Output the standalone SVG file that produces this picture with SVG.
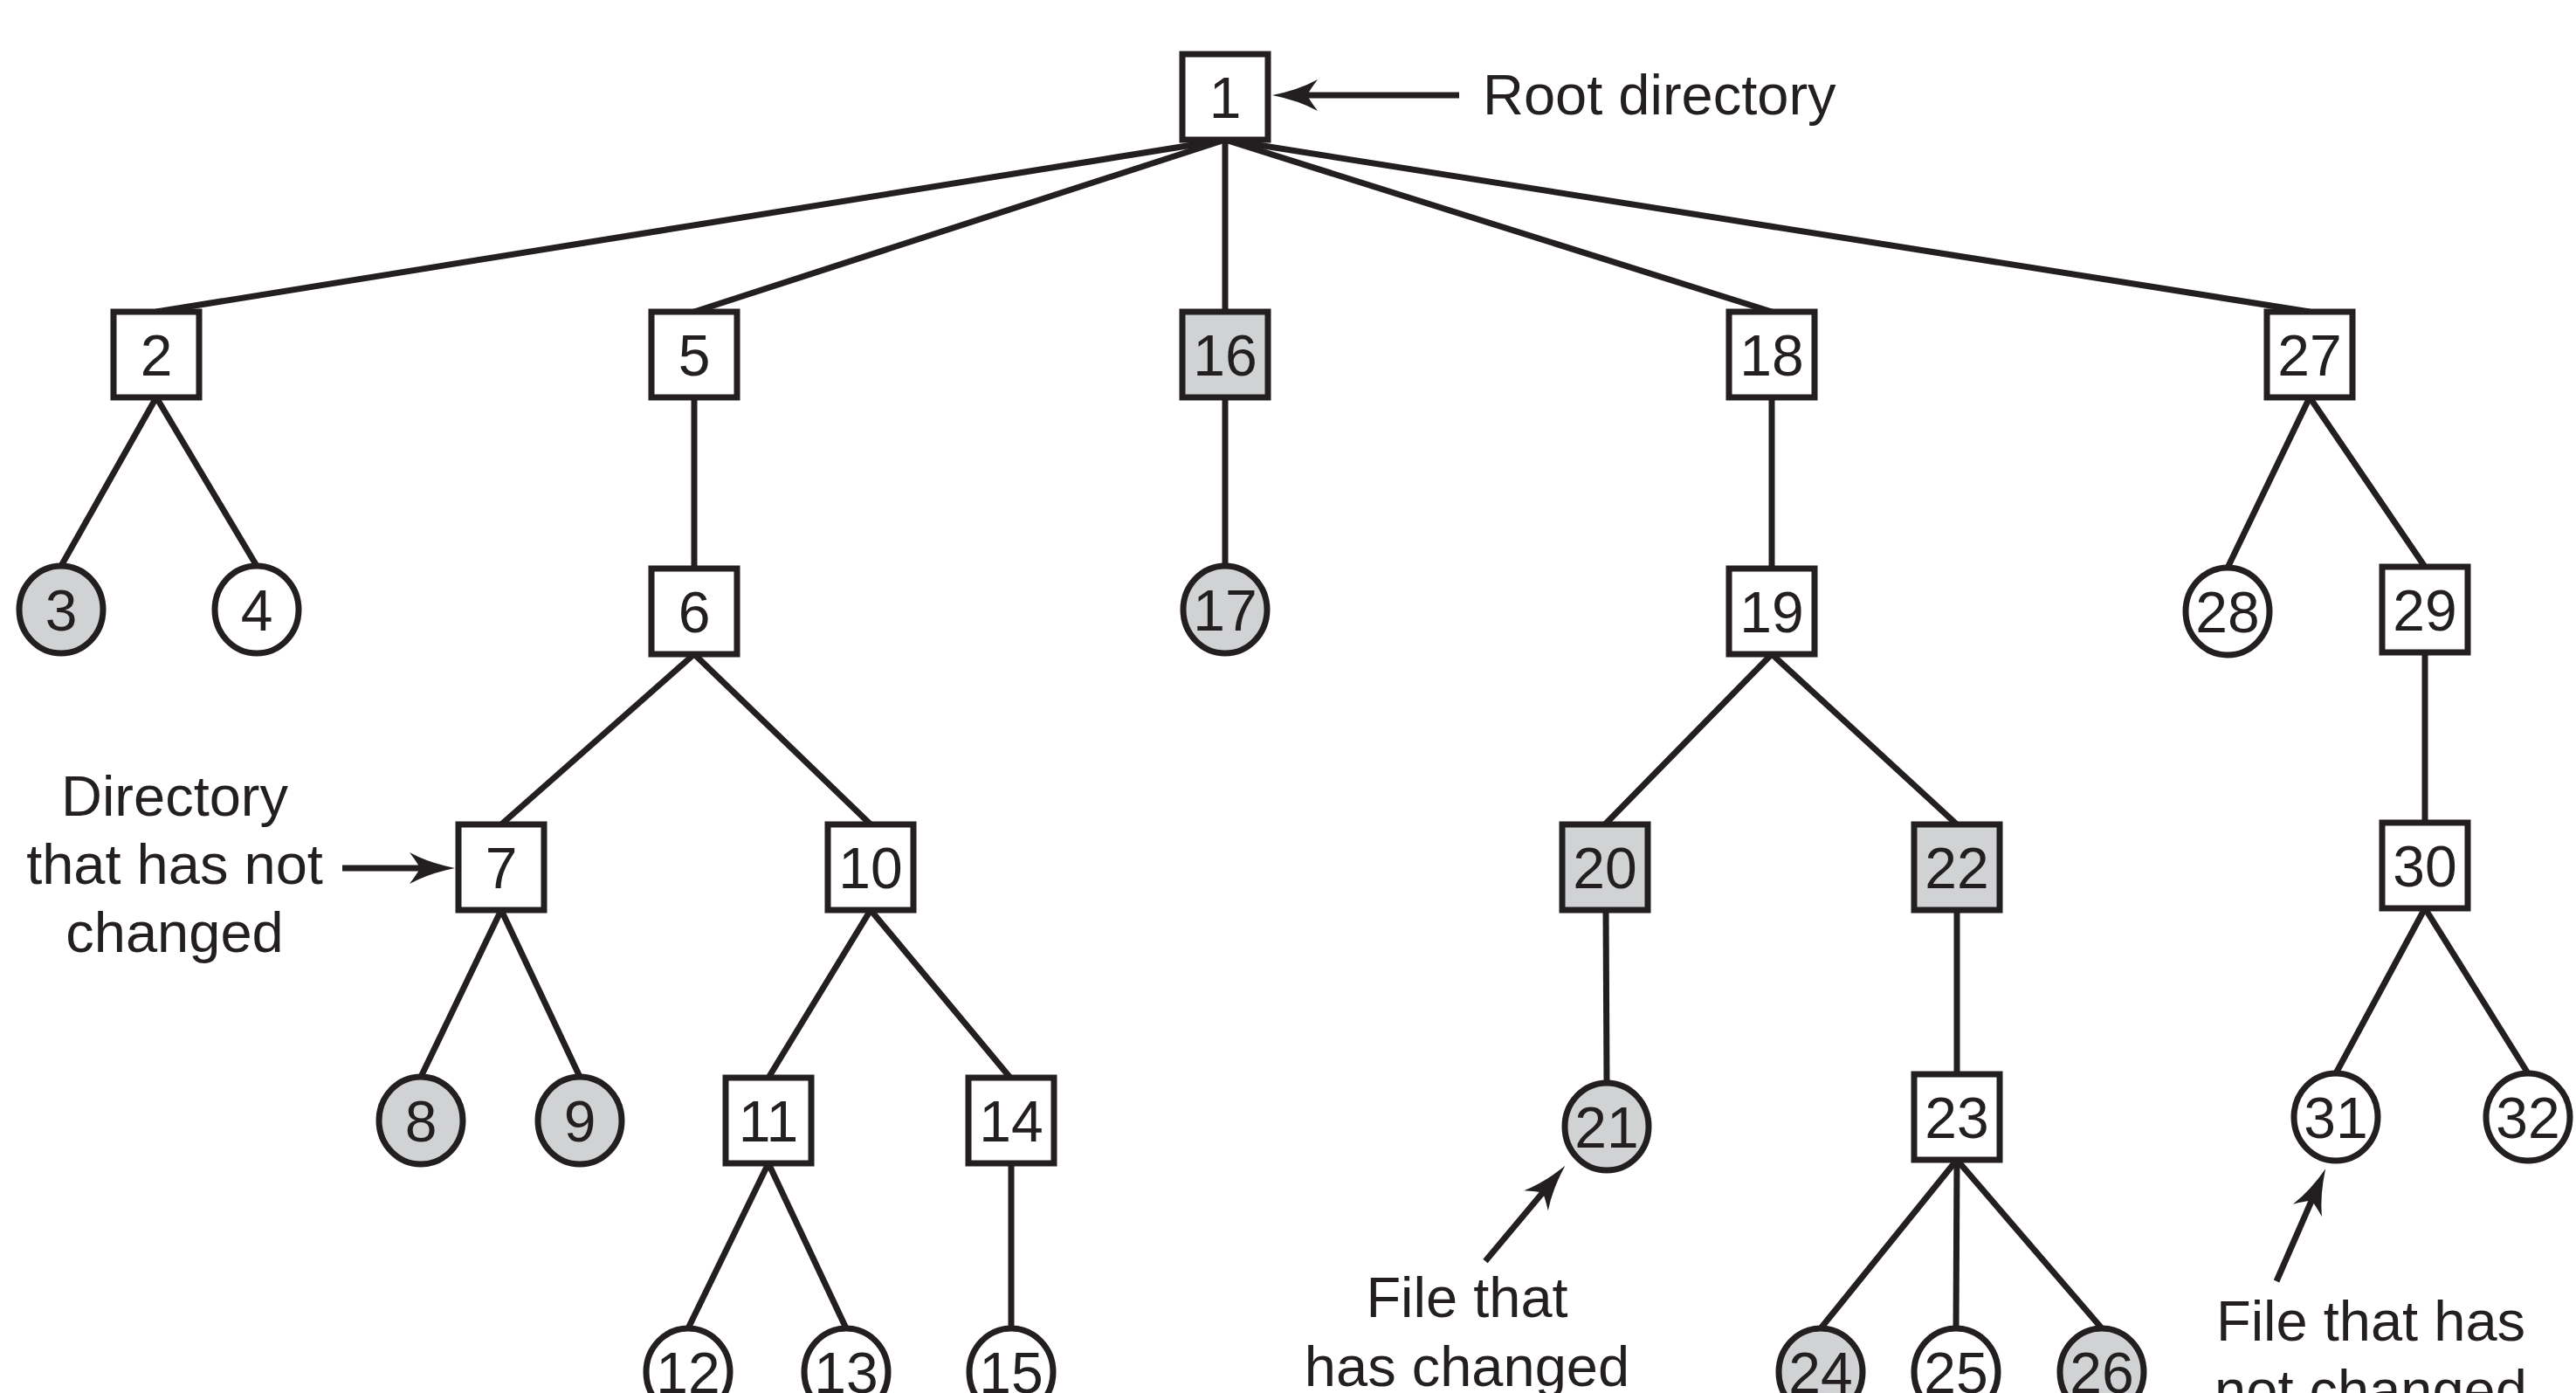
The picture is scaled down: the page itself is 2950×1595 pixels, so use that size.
<svg xmlns="http://www.w3.org/2000/svg" width="2950" height="1595" viewBox="0 0 2950 1595">
<style>
.n rect,.n ellipse{stroke:#231f20;stroke-width:7;fill:#ffffff}
.g rect,.g ellipse{fill:#d1d2d4}
text{font-family:"Liberation Sans",Arial,sans-serif;fill:#231f20}
.num{font-size:66px;text-anchor:middle}
.lbl{font-size:65px}
.mid{text-anchor:middle}
#connectors line{stroke:#231f20;stroke-width:7;fill:none}
#connectors .arr{marker-end:url(#ah)}
</style>
<defs>
<marker id="ah" markerUnits="userSpaceOnUse" viewBox="-20 -20 60 40" markerWidth="60" markerHeight="40" refX="0" refY="0" orient="auto">
<path d="M38,0 Q8,-6 -14,-18 Q-5,-6 -2,0 Q-5,6 -14,18 Q8,6 38,0 Z" fill="#231f20"/>
</marker>
</defs>
<rect width="2950" height="1595" fill="#ffffff"/>
<g id="connectors">
<line x1="1403" y1="160" x2="179" y2="357"/>
<line x1="1403" y1="160" x2="795" y2="357"/>
<line x1="1403" y1="160" x2="1403" y2="357"/>
<line x1="1403" y1="160" x2="2029" y2="357"/>
<line x1="1403" y1="160" x2="2645" y2="357"/>
<line x1="179" y1="455" x2="70" y2="648"/>
<line x1="179" y1="455" x2="294" y2="648"/>
<line x1="795" y1="455" x2="795" y2="651"/>
<line x1="1403" y1="455" x2="1403" y2="648"/>
<line x1="2029" y1="455" x2="2029" y2="651"/>
<line x1="2645" y1="455" x2="2551" y2="650"/>
<line x1="2645" y1="455" x2="2777" y2="649"/>
<line x1="795" y1="749" x2="574" y2="944"/>
<line x1="795" y1="749" x2="997" y2="944"/>
<line x1="2029" y1="749" x2="1838" y2="944"/>
<line x1="2029" y1="749" x2="2241" y2="944"/>
<line x1="2777" y1="747" x2="2777" y2="942"/>
<line x1="574" y1="1042" x2="482" y2="1233"/>
<line x1="574" y1="1042" x2="664" y2="1233"/>
<line x1="997" y1="1042" x2="880" y2="1234"/>
<line x1="997" y1="1042" x2="1157" y2="1234"/>
<line x1="1839" y1="1042" x2="1840" y2="1240"/>
<line x1="2241" y1="1042" x2="2241" y2="1230"/>
<line x1="2777" y1="1040" x2="2675" y2="1229"/>
<line x1="2777" y1="1040" x2="2895" y2="1229"/>
<line x1="880" y1="1332" x2="788" y2="1521"/>
<line x1="880" y1="1332" x2="969" y2="1521"/>
<line x1="1158" y1="1332" x2="1158" y2="1521"/>
<line x1="2241" y1="1328" x2="2085" y2="1521"/>
<line x1="2241" y1="1328" x2="2240" y2="1521"/>
<line x1="2241" y1="1328" x2="2407" y2="1521"/>
<line class="arr" x1="1671" y1="109" x2="1495" y2="109"/>
<line class="arr" x1="392" y1="994" x2="483" y2="994"/>
<line class="arr" x1="1701" y1="1444" x2="1768" y2="1364"/>
<line class="arr" x1="2607" y1="1467" x2="2648" y2="1373"/>
</g>
<g id="n1" class="n"><rect x="1354" y="62" width="98" height="98"/><text class="num" x="1403" y="135">1</text></g>
<g id="n2" class="n"><rect x="130" y="357" width="98" height="98"/><text class="num" x="179" y="430">2</text></g>
<g id="n5" class="n"><rect x="746" y="357" width="98" height="98"/><text class="num" x="795" y="430">5</text></g>
<g id="n16" class="n g"><rect x="1354" y="357" width="98" height="98"/><text class="num" x="1403" y="430">16</text></g>
<g id="n18" class="n"><rect x="1980" y="357" width="98" height="98"/><text class="num" x="2029" y="430">18</text></g>
<g id="n27" class="n"><rect x="2596" y="357" width="98" height="98"/><text class="num" x="2645" y="430">27</text></g>
<g id="n3" class="n g"><ellipse cx="70" cy="698" rx="48" ry="50"/><text class="num" x="70" y="722">3</text></g>
<g id="n4" class="n"><ellipse cx="294" cy="698" rx="48" ry="50"/><text class="num" x="294" y="722">4</text></g>
<g id="n6" class="n"><rect x="746" y="651" width="98" height="98"/><text class="num" x="795" y="724">6</text></g>
<g id="n17" class="n g"><ellipse cx="1403" cy="698" rx="48" ry="50"/><text class="num" x="1403" y="722">17</text></g>
<g id="n19" class="n"><rect x="1980" y="651" width="98" height="98"/><text class="num" x="2029" y="724">19</text></g>
<g id="n28" class="n"><ellipse cx="2551" cy="700" rx="48" ry="50"/><text class="num" x="2551" y="724">28</text></g>
<g id="n29" class="n"><rect x="2728" y="649" width="98" height="98"/><text class="num" x="2777" y="722">29</text></g>
<g id="n7" class="n"><rect x="525" y="944" width="98" height="98"/><text class="num" x="574" y="1017">7</text></g>
<g id="n10" class="n"><rect x="948" y="944" width="98" height="98"/><text class="num" x="997" y="1017">10</text></g>
<g id="n20" class="n g"><rect x="1789" y="944" width="98" height="98"/><text class="num" x="1838" y="1017">20</text></g>
<g id="n22" class="n g"><rect x="2192" y="944" width="98" height="98"/><text class="num" x="2241" y="1017">22</text></g>
<g id="n30" class="n"><rect x="2728" y="942" width="98" height="98"/><text class="num" x="2777" y="1015">30</text></g>
<g id="n8" class="n g"><ellipse cx="482" cy="1283" rx="48" ry="50"/><text class="num" x="482" y="1307">8</text></g>
<g id="n9" class="n g"><ellipse cx="664" cy="1283" rx="48" ry="50"/><text class="num" x="664" y="1307">9</text></g>
<g id="n11" class="n"><rect x="831" y="1234" width="98" height="98"/><text class="num" x="880" y="1307">11</text></g>
<g id="n14" class="n"><rect x="1109" y="1234" width="98" height="98"/><text class="num" x="1158" y="1307">14</text></g>
<g id="n21" class="n g"><ellipse cx="1840" cy="1290" rx="48" ry="50"/><text class="num" x="1840" y="1314">21</text></g>
<g id="n23" class="n"><rect x="2192" y="1230" width="98" height="98"/><text class="num" x="2241" y="1303">23</text></g>
<g id="n31" class="n"><ellipse cx="2675" cy="1279" rx="48" ry="50"/><text class="num" x="2675" y="1303">31</text></g>
<g id="n32" class="n"><ellipse cx="2895" cy="1279" rx="48" ry="50"/><text class="num" x="2895" y="1303">32</text></g>
<g id="n12" class="n"><ellipse cx="788" cy="1571" rx="48" ry="50"/><text class="num" x="788" y="1595">12</text></g>
<g id="n13" class="n"><ellipse cx="969" cy="1571" rx="48" ry="50"/><text class="num" x="969" y="1595">13</text></g>
<g id="n15" class="n"><ellipse cx="1158" cy="1571" rx="48" ry="50"/><text class="num" x="1158" y="1595">15</text></g>
<g id="n24" class="n g"><ellipse cx="2085" cy="1571" rx="48" ry="50"/><text class="num" x="2085" y="1595">24</text></g>
<g id="n25" class="n"><ellipse cx="2240" cy="1571" rx="48" ry="50"/><text class="num" x="2240" y="1595">25</text></g>
<g id="n26" class="n g"><ellipse cx="2407" cy="1571" rx="48" ry="50"/><text class="num" x="2407" y="1595">26</text></g>
<g id="labels">
<text class="lbl" x="1698" y="131">Root directory</text>
<text class="lbl mid" x="200" y="934">Directory</text>
<text class="lbl mid" x="200" y="1012">that has not</text>
<text class="lbl mid" x="200" y="1090">changed</text>
<text class="lbl mid" x="1680" y="1508">File that</text>
<text class="lbl mid" x="1680" y="1587">has changed</text>
<text class="lbl mid" x="2715" y="1535">File that has</text>
<text class="lbl mid" x="2715" y="1614">not changed</text>
</g>
</svg>
